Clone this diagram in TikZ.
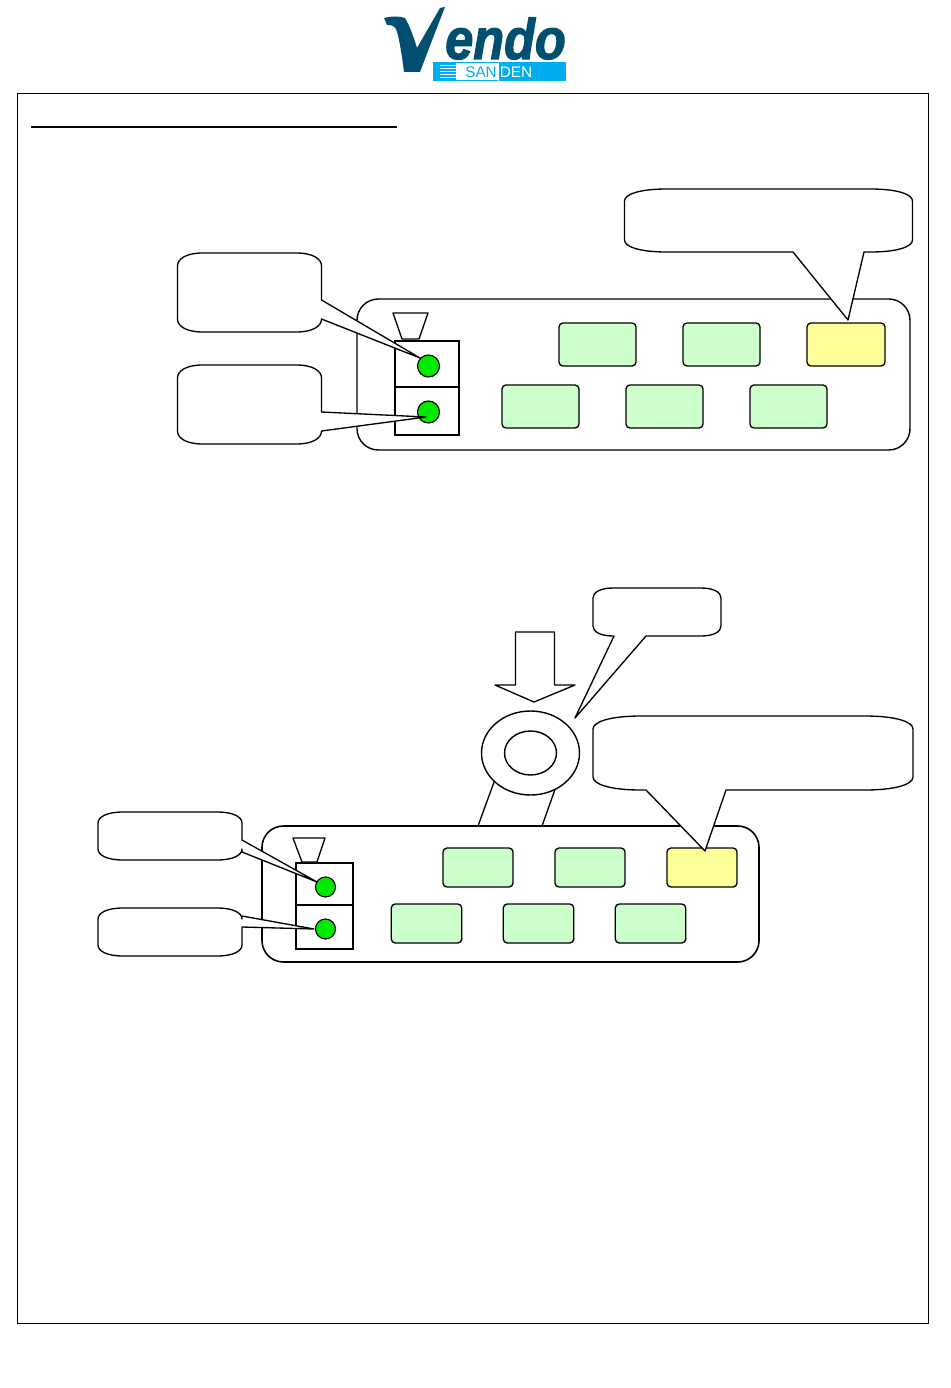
\documentclass[tikz,border=0pt]{standalone}
\usepackage{fontspec}
\setmainfont{Liberation Sans}
\newfontfamily\logofont[BoldItalicFeatures={FakeBold=2.2}]{Liberation Sans}
\usetikzlibrary{shapes.geometric}
\definecolor{vendoblue}{HTML}{004F70}
\definecolor{sandencyan}{HTML}{00AEEF}
\definecolor{btngreen}{HTML}{CCFFCC}
\definecolor{btnyellow}{HTML}{FFFF99}
\definecolor{ledgreen}{HTML}{00EA00}
% callout: x1,y1,x2,y2 box; rx,ry corners
% bottom pointer: base a, base b on bottom edge
\newcommand{\calloutbottom}[9][]{%
  \draw[calloutline,#1] (#2+#6,#3) -- (#4-#6,#3)
    .. controls (#4-#6*.35,#3) and (#4,#3+#7*.45) .. (#4,#3+#7)
    -- (#4,#5-#7)
    .. controls (#4,#5-#7*.45) and (#4-#6*.35,#5) .. (#4-#6,#5)
    -- (#9,#5) -- (tip) -- (#8,#5) -- (#2+#6,#5)
    .. controls (#2+#6*.35,#5) and (#2,#5-#7*.45) .. (#2,#5-#7)
    -- (#2,#3+#7)
    .. controls (#2,#3+#7*.45) and (#2+#6*.35,#3) .. (#2+#6,#3) -- cycle;}
% right pointer: base a, base b on right edge
\newcommand{\calloutright}[9][]{%
  \draw[calloutline,#1] (#2+#6,#3) -- (#4-#6,#3)
    .. controls (#4-#6*.35,#3) and (#4,#3+#7*.45) .. (#4,#3+#7)
    -- (#4,#8) -- (tip) -- (#4,#9) -- (#4,#5-#7)
    .. controls (#4,#5-#7*.45) and (#4-#6*.35,#5) .. (#4-#6,#5)
    -- (#2+#6,#5)
    .. controls (#2+#6*.35,#5) and (#2,#5-#7*.45) .. (#2,#5-#7)
    -- (#2,#3+#7)
    .. controls (#2,#3+#7*.45) and (#2+#6*.35,#3) .. (#2+#6,#3) -- cycle;}
\tikzset{
  x=.75pt,y=-.75pt,
  calloutline/.style={draw=black,fill=white,line width=1pt,line join=round},
  panelbox/.style 2 args={draw=black,fill=white,line width=1.05pt,rounded corners=16pt,
     minimum width=#1*.75pt,minimum height=#2*.75pt,inner sep=0pt,outer sep=0pt},
  btnbox/.style 2 args={draw=black,line width=1pt,rounded corners=3pt,
     minimum width=#1*.75pt,minimum height=#2*.75pt,inner sep=0pt,outer sep=0pt},
  devbox/.style 2 args={draw=black,fill=white,line width=1.5pt,
     minimum width=#1*.75pt,minimum height=#2*.75pt,inner sep=0pt,outer sep=0pt},
  ledspot/.style={circle,draw=black,fill=ledgreen,line width=.85pt,minimum size=#1*.75pt,inner sep=0pt,outer sep=0pt},
  thinline/.style={draw=black,line width=1pt,line join=round},
  ringshape/.style 2 args={ellipse,draw=black,fill=white,line width=1.05pt,
     minimum width=#1*.75pt,minimum height=#2*.75pt,inner sep=0pt,outer sep=0pt},
}
\begin{document}
\begin{tikzpicture}
\path[use as bounding box,fill=white] (0,0) rectangle (950,1388);

% logo
\fill[vendoblue] (384,18) .. controls (392,16) and (400,16) .. (405,18)
  .. controls (409,24) and (414,38) .. (417,48) -- (440,8) -- (445,7)
  .. controls (436,30) and (426,56) .. (420,72) -- (404,72)
  .. controls (402,56) and (399,36) .. (396,29) .. controls (394,25) and (389,25) .. (387,25) -- cycle;
\node[anchor=base west,inner sep=0pt,font=\logofont\fontsize{43}{43}\selectfont\bfseries\itshape,text=vendoblue,
  xscale=.88,transform shape] (endo) at (445,59) {endo};
\node[fill=sandencyan,minimum width=23*.75pt,minimum height=19*.75pt,inner sep=0pt,outer sep=0pt] (logomark) at (444.5,71.5) {};
\foreach \yy in {65,68,71,74,77} \draw[white,line width=.5pt] (440,\yy) -- (456,\yy);
\node[fill=sandencyan,minimum width=67*.75pt,minimum height=19*.75pt,inner sep=0pt,outer sep=0pt] (logobar) at (532,71.5) {};
\draw[sandencyan,line width=.6pt] (456,62.5) -- (498,62.5);
\draw[sandencyan,line width=.6pt] (456,80.5) -- (498,80.5);
\node[anchor=base west,inner sep=0pt,font=\fontsize{11.5}{12}\selectfont,text=sandencyan] (san) at (465,78) {SAN};
\node[anchor=base west,inner sep=0pt,font=\fontsize{11.5}{12}\selectfont,text=white] (den) at (499.5,78) {DEN};

% frame and heading rule
\node[draw=black,line width=.75pt,minimum width=911.5*.75pt,minimum height=1229*.75pt,inner sep=0pt,outer sep=0pt] (frame) at (473,708.5) {};
\draw[line width=2.1pt] (31,127) -- (397,127);

% upper panel
\node[panelbox={553}{151}] (panelA) at (633.5,374.5) {};
\node[btnbox={77}{43},fill=btngreen]  (a1) at (597.5,344.5) {};
\node[btnbox={77}{43},fill=btngreen]  (a2) at (721.5,344.5) {};
\node[btnbox={78}{43},fill=btnyellow] (a3) at (846,344.5) {};
\node[btnbox={77}{43},fill=btngreen]  (a4) at (540.5,406.5) {};
\node[btnbox={77}{43},fill=btngreen]  (a5) at (664.5,406.5) {};
\node[btnbox={77}{43},fill=btngreen]  (a6) at (788.5,406.5) {};
\node[devbox={64}{46}] (devA1) at (427,364) {};
\node[devbox={64}{48}] (devA2) at (427,411) {};
\draw[thinline,fill=white] (393,313) -- (428,313) -- (419,339) -- (402,339) -- cycle;
\node[ledspot=22] (ledA1) at (428.5,366) {};
\node[ledspot=22] (ledA2) at (428.5,412) {};

\coordinate (tip) at (420,358);
\calloutright{177.5}{253}{321.5}{332}{25}{13}{300}{319}
\coordinate (tip) at (426,417);
\calloutright{177.5}{365}{321.5}{444}{25}{13}{412}{431}
\coordinate (tip) at (848,320);
\calloutbottom{624.5}{189}{912.5}{252}{42}{12}{793}{864}

% lower panel
\node[panelbox={497}{136},line width=1.2pt] (panelB) at (510.5,894) {};
\node[btnbox={70}{39},fill=btngreen]  (b1) at (478,867.5) {};
\node[btnbox={70}{39},fill=btngreen]  (b2) at (590,867.5) {};
\node[btnbox={70}{39},fill=btnyellow] (b3) at (702,867.5) {};
\node[btnbox={70.5}{39},fill=btngreen]  (b4) at (426.5,923.5) {};
\node[btnbox={70.5}{39},fill=btngreen]  (b5) at (538.5,923.5) {};
\node[btnbox={70.5}{39},fill=btngreen]  (b6) at (650.5,923.5) {};
\node[devbox={57}{42}] (devB1) at (324.5,884) {};
\node[devbox={57}{44}] (devB2) at (324.5,927) {};
\draw[thinline,fill=white] (293,838) -- (325,838) -- (317,862) -- (302,862) -- cycle;
\node[ledspot=20] (ledB1) at (325.5,887) {};
\node[ledspot=20] (ledB2) at (325.5,929) {};

\coordinate (tip) at (317,882);
\calloutright{98}{812}{242}{860}{25}{11}{840}{852}
\coordinate (tip) at (314,929);
\calloutright{98}{908}{242}{956}{25}{11}{916}{927}

% ring, stem and arrow
\coordinate (stemA) at (478,826);
\coordinate (stemB) at (542,826);
\node[ringshape={98}{84}] (ring) at (530.5,753) {};
\node[ringshape={52}{44}] (hole) at (530.5,753) {};
\draw[thinline] (ring.218) -- (stemA);
\draw[thinline] (ring.304) -- (stemB);
\draw[thinline,fill=white] (515.5,632) -- (554.5,632) -- (554.5,685) -- (575,685) -- (534,702) -- (495,685) -- (515.5,685) -- cycle;

\coordinate (tip) at (575,718);
\calloutbottom{593}{588}{721}{636}{20}{10}{614}{646}
\coordinate (tip) at (705,851);
\calloutbottom{593}{716}{913}{790}{48}{13}{646}{726}
\end{tikzpicture}
\end{document}
